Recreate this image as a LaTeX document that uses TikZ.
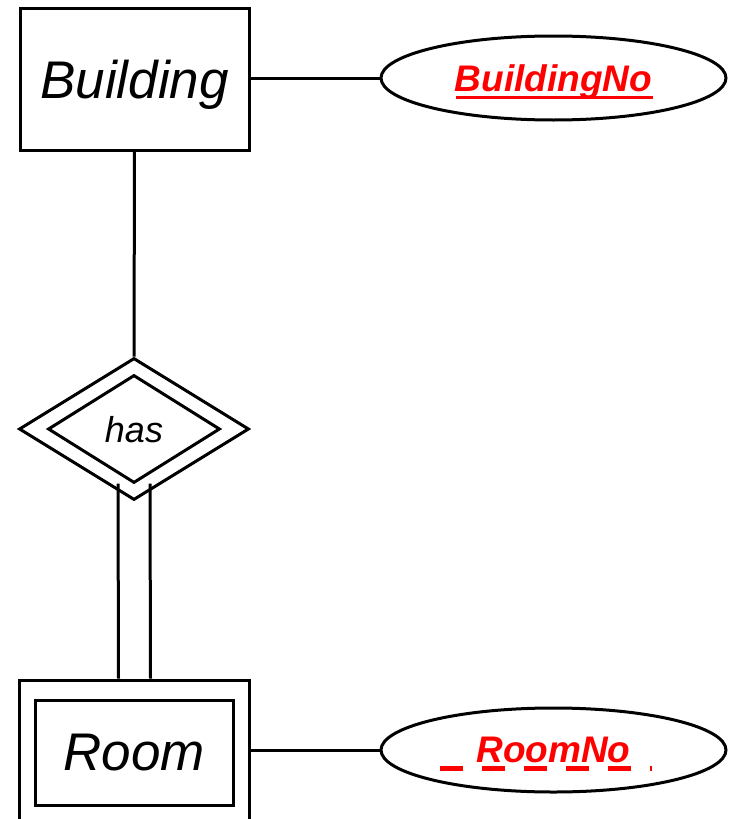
\documentclass[tikz,border=0pt]{standalone}
\usepackage{fontspec}
\setmainfont{Liberation Sans}
\usetikzlibrary{shapes.geometric,calc}
\definecolor{keyred}{RGB}{255,0,0}
\tikzset{
  ent/.style={draw, line width=3pt, inner sep=0pt, text depth=0pt, font=\itshape\fontsize{53}{60}\selectfont},
  attr/.style={draw, ellipse, line width=3pt, inner sep=0pt, text depth=0pt, minimum width=345pt, minimum height=84pt,
     text=keyred, font=\bfseries\itshape\fontsize{37}{42}\selectfont},
  rel/.style={draw, diamond, line width=3pt, inner sep=0pt, text depth=0pt, font=\itshape\fontsize{36}{40}\selectfont},
  conn/.style={line width=3pt},
}
\begin{document}
\begin{tikzpicture}[x=1pt,y=-1pt]
\useasboundingbox (0,0) rectangle (734,819);
\clip (0,0) rectangle (734,819);
\node[ent, minimum width=229pt, minimum height=142pt] (bld) at (134.5,79) {Building};
\node[attr] (bno) at (553.5,78) {BuildingNo};
\node[rel, minimum width=230pt, minimum height=142pt] (hasO) at (134,429) {};
\node[rel, minimum width=172pt, minimum height=108pt] (hasI) at (134,429) {has};
\node[ent, minimum width=230pt, minimum height=150pt] (roomO) at (134.5,755) {};
\node[ent, minimum width=198pt, minimum height=105pt] (roomI) at (134,752.5) {Room};
\node[attr] (rno) at (553.5,750) {RoomNo};
% connectors
\draw[conn] (bno.west -| bld.east) -- (bno.west);
\draw[conn] (bld.south) -- (hasO.north);
\draw[conn] ([xshift=-16pt,yshift=18pt]hasO.south) -- ([xshift=-16pt]roomO.north);
\draw[conn] ([xshift=16pt,yshift=18pt]hasO.south) -- ([xshift=16pt]roomO.north);
\draw[conn] (rno.west -| roomO.east) -- (rno.west);
% key underlines
\draw[keyred, line width=3pt] ($(bno.center)+(-97.5,19.5)$) -- ($(bno.center)+(99.5,19.5)$);
\draw[keyred, line width=5pt, dash pattern=on 23pt off 19pt] ($(rno.center)+(-113.5,18)$) -- ($(rno.center)+(98.5,18)$);
\end{tikzpicture}
\end{document}
